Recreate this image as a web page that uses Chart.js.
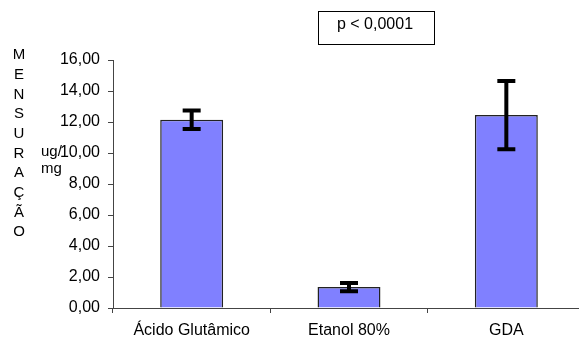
<!DOCTYPE html>
<html>
<head>
<meta charset="utf-8">
<script src="https://cdn.jsdelivr.net/npm/chart.js@4"></script>
<style>
	html, body { margin: 0; padding: 0; background: #fff; overflow: hidden; }
	#wrap { width: 590px; height: 341px; }
</style>
</head>
<body>
<div id="wrap"><canvas id="chart"></canvas></div>
<script>
"use strict";

const categories = ["Ácido Glutâmico", "Etanol 80%", "GDA"];
const means = [12.15, 1.35, 12.45];
const errors = [0.6, 0.27, 2.2];
const yTitle = "MENSURAÇÃO".split("");
const unitLines = ["ug/", "mg"];
const pLabel = "p < 0,0001";

const FONT = "'Liberation Sans', Arial, sans-serif";

// error bars drawn from the scales
const errorBars = {
	id: "errorBars",
	afterDatasetsDraw(chart) {
		const ctx = chart.ctx;
		const x = chart.scales.x;
		const y = chart.scales.y;
		ctx.save();
		ctx.strokeStyle = "#000";
		ctx.lineWidth = 4;
		means.forEach((m, i) => {
			const cx = x.getPixelForValue(i);
			const top = y.getPixelForValue(m + errors[i]);
			const bot = y.getPixelForValue(m - errors[i]);
			ctx.beginPath();
			ctx.moveTo(cx, top);
			ctx.lineTo(cx, bot);
			ctx.moveTo(cx - 9, top);
			ctx.lineTo(cx + 9, top);
			ctx.moveTo(cx - 9, bot);
			ctx.lineTo(cx + 9, bot);
			ctx.stroke();
		});
		ctx.restore();
	}
};

// side titles and p-value box
const extras = {
	id: "extras",
	afterDraw(chart) {
		const ctx = chart.ctx;
		ctx.save();
		ctx.fillStyle = "#000";
		ctx.font = "15px " + FONT;
		ctx.textAlign = "center";
		ctx.textBaseline = "middle";
		yTitle.forEach((ch, i) => {
			ctx.fillText(ch, 19, 55 + i * 19.7);
		});
		ctx.textAlign = "left";
		ctx.fillText(unitLines[0], 41, 152);
		ctx.fillText(unitLines[1], 41, 169);

		ctx.strokeStyle = "#000";
		ctx.lineWidth = 1;
		ctx.strokeRect(318.5, 11.5, 116, 33);
		ctx.font = "16px " + FONT;
		ctx.textAlign = "center";
		ctx.fillText(pLabel, 375, 25);
		ctx.restore();
	}
};

new Chart(document.querySelector("#chart").getContext("2d"), {
	type: "bar",
	data: {
		labels: categories,
		datasets: [{
			data: means,
			backgroundColor: "#8080ff",
			borderColor: "#222",
			borderWidth: 1.5,
			barPercentage: 0.4,
			categoryPercentage: 1
		}]
	},
	options: {
		responsive: true,
		maintainAspectRatio: false,
		animation: false,
		layout: { padding: { top: 60, right: 5, left: 0, bottom: 0 } },
		plugins: {
			legend: { display: false },
			tooltip: { enabled: false }
		},
		scales: {
			x: {
				grid: { drawOnChartArea: false, color: "#444", tickLength: 5 },
				border: { color: "#444", width: 1 },
				ticks: { color: "#000", font: { family: FONT, size: 16 }, padding: 8 },
				afterFit: s => { s.height = 33; }
			},
			y: {
				min: 0,
				max: 16,
				grid: { drawOnChartArea: false, color: "#444", tickLength: 5 },
				border: { color: "#444", width: 1 },
				ticks: {
					stepSize: 2,
					color: "#000",
					font: { family: FONT, size: 16 },
					padding: 8,
					callback: v => v.toFixed(2).replace(".", ",")
				},
				afterFit: s => { s.width = 113; }
			}
		}
	},
	plugins: [errorBars, extras]
});
</script>
</body>
</html>
